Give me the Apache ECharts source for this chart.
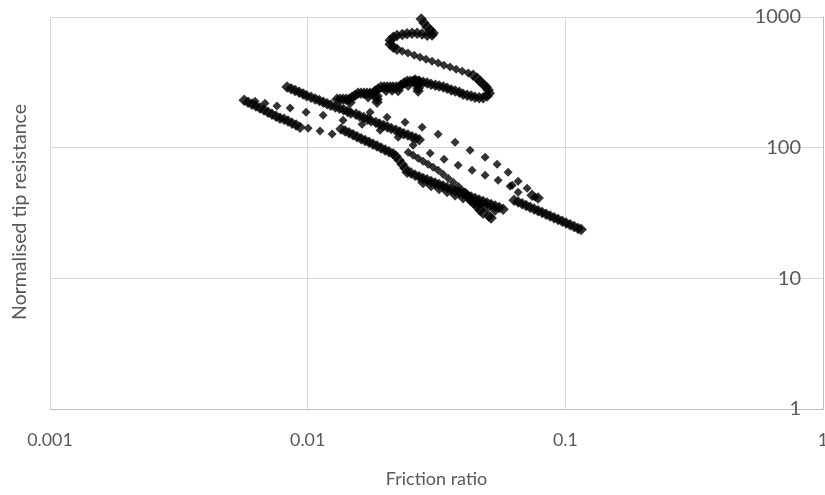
<!DOCTYPE html>
<html>
<head>
<meta charset="utf-8">
<title>Normalised tip resistance vs friction ratio</title>
<script src="https://cdn.jsdelivr.net/npm/echarts@6/dist/echarts.min.js"></script>
<style>
  html, body { margin: 0; padding: 0; background: #ffffff; }
  #chart { width: 825px; height: 495px; }
</style>
</head>
<body>
<div id="chart"></div>
<script>
// Axis tick labels (decades on both log axes)
const xTickLabels = ['0.001', '0.01', '0.1', '1'];
const yTickLabels = ['1', '10', '100', '1000'];

// Measured points: [friction ratio, normalised tip resistance]
const snakeTop = [
  [0.0276, 967], [0.0283, 898], [0.0291, 838], [0.0299, 795], [0.0307, 753],
  [0.0304, 727], [0.0291, 725], [0.0278, 740], [0.0266, 752], [0.0254, 750],
  [0.0243, 745], [0.0233, 735], [0.0222, 722], [0.0215, 700], [0.0209, 665],
  [0.0209, 620], [0.0215, 588], [0.0222, 566]
];
const snakeDotted = [
  [0.0233, 548], [0.0245, 530], [0.0259, 510], [0.0273, 493], [0.0288, 476],
  [0.0304, 459], [0.0321, 444], [0.0338, 428], [0.0357, 414], [0.0377, 399],
  [0.0398, 385], [0.0420, 372]
];
const snakeCurl = [
  [0.0439, 359], [0.0455, 340], [0.0467, 323], [0.0480, 306], [0.0493, 291],
  [0.0502, 276], [0.0507, 261], [0.0497, 248], [0.0480, 241], [0.0463, 241],
  [0.0446, 243], [0.0431, 248], [0.0416, 252], [0.0401, 256], [0.0388, 266],
  [0.0374, 271], [0.0361, 276], [0.0348, 285], [0.0336, 291], [0.0324, 296],
  [0.0313, 301], [0.0301, 306], [0.0291, 312], [0.0281, 317], [0.0270, 323],
  [0.0261, 329]
];
const staircase = [
  [0.02707, 322], [0.02636, 323], [0.02566, 322], [0.02498, 323], [0.02432, 323],
  [0.02684, 301], [0.02684, 285], [0.02684, 271],
  [0.02367, 312], [0.0230, 301],
  [0.02264, 291], [0.02204, 291], [0.02145, 291], [0.02089, 291], [0.02033, 291],
  [0.0198, 291], [0.01927, 291],
  [0.02126, 276],
  [0.01876, 281], [0.01827, 271],
  [0.01794, 261], [0.01747, 261], [0.0170, 261], [0.01655, 261], [0.01612, 261],
  [0.01569, 261],
  [0.01859, 248], [0.01859, 235], [0.01859, 223],
  [0.01527, 252], [0.01487, 243],
  [0.01448, 235], [0.01409, 235], [0.01372, 235], [0.01336, 235], [0.0130, 235],
  [0.02454, 301], [0.02244, 274], [0.02015, 275], [0.01716, 245], [0.01461, 222]
];
const bandUpper = [
  [0.00832, 291], [0.00862, 282], [0.00894, 274], [0.00927, 265], [0.0096, 257],
  [0.0099, 250], [0.0103, 243], [0.0107, 236], [0.0111, 230], [0.0115, 223],
  [0.0119, 217], [0.0123, 211], [0.0128, 205], [0.0133, 200], [0.0138, 195],
  [0.0143, 189], [0.0147, 184], [0.0154, 180], [0.0159, 175], [0.0165, 170],
  [0.0171, 165], [0.0176, 161], [0.0184, 156], [0.0190, 152], [0.0197, 148],
  [0.0204, 144], [0.0211, 140], [0.0220, 136], [0.0228, 132], [0.0236, 128],
  [0.0245, 125], [0.0254, 121], [0.0263, 118], [0.0271, 115]
];
const bandLeft = [
  [0.00567, 231], [0.00587, 223], [0.00608, 215], [0.0063, 208], [0.00653, 201],
  [0.00677, 194], [0.00702, 187], [0.00727, 180], [0.00754, 174], [0.00781, 168],
  [0.0081, 165], [0.00839, 160], [0.0087, 154], [0.00902, 149], [0.00934, 143]
];
const rowLeft = [
  [0.00625, 227], [0.00683, 219], [0.0076, 208], [0.00855, 201], [0.00986, 187],
  [0.01148, 177], [0.01372, 162], [0.01626, 151], [0.0191, 136], [0.02244, 120]
];
const rowShort = [
  [0.01004, 141], [0.01117, 134], [0.01244, 127]
];
const bandMiddle = [
  [0.01348, 139], [0.01397, 134], [0.01448, 130], [0.01501, 125.5], [0.01555, 121],
  [0.01612, 117], [0.01671, 113.5], [0.01731, 110], [0.01794, 106], [0.01859, 103],
  [0.01927, 99.5], [0.01998, 96], [0.0207, 93], [0.02145, 90],
  [0.0220, 86.1], [0.02264, 80.2], [0.02325, 74.8], [0.02388, 69.7]
];
const bandDiagonal = [
  [0.02455, 92.4], [0.02566, 87.6], [0.02684, 83.1], [0.02805, 78.8], [0.02934, 74.8],
  [0.03068, 70.9], [0.03208, 67.3], [0.03354, 62.7], [0.03508, 58.4], [0.03668, 54.4],
  [0.03836, 50.7], [0.03976, 47.3]
];
const bandLower = [
  [0.02432, 64.9], [0.0252, 63.9], [0.02612, 61.5], [0.02707, 59.9], [0.02805, 58.2],
  [0.02907, 56.7], [0.03013, 55.2], [0.03123, 53.7], [0.03237, 52.3], [0.03354, 50.8],
  [0.03477, 49.5], [0.03603, 48.1], [0.03734, 46.9], [0.0387, 45.6], [0.04011, 44.4],
  [0.04157, 43.2], [0.04308, 42.0], [0.04465, 40.9], [0.04628, 39.8], [0.04796, 38.7],
  [0.04971, 37.7], [0.05152, 36.7], [0.0534, 35.7], [0.05534, 34.8], [0.05735, 33.8],
  [0.02805, 54.2], [0.03013, 51.4], [0.03237, 48.7], [0.03477, 46.1], [0.03734, 43.7],
  [0.04011, 41.4], [0.04308, 39.1], [0.04628, 37.1], [0.04971, 35.1], [0.0534, 33.3]
];
const bandFork = [
  [0.04083, 44.8], [0.04195, 42.2], [0.04308, 39.6], [0.04426, 37.6], [0.04546, 35.3],
  [0.0467, 33.2], [0.04796, 31.5], [0.0506, 29.9], [0.05151, 28.9]
];
const bandRight = [
  [0.06326, 39.6], [0.06558, 38.4], [0.06797, 37.3], [0.07044, 36.1], [0.07301, 35.0],
  [0.07567, 33.9], [0.07842, 32.9], [0.08127, 31.9], [0.08424, 30.9], [0.0873, 30.0],
  [0.09047, 29.1], [0.09376, 28.2], [0.09719, 27.3], [0.1007, 26.5], [0.1044, 25.7],
  [0.1082, 24.9], [0.1121, 24.1], [0.1152, 23.6], [0.0743, 43.3], [0.0784, 41.1]
];
const rowUpper = [
  [0.01747, 187], [0.02033, 171], [0.02388, 156.8], [0.02781, 143.5], [0.03208, 126.9],
  [0.03734, 110.2], [0.04269, 95.7], [0.04883, 84.6], [0.05437, 74.8], [0.05998, 64.9],
  [0.06558, 55.4], [0.07108, 49.0], [0.07636, 41.8]
];
const rowLower = [
  [0.02566, 104.5], [0.02987, 90.8], [0.03384, 81.6], [0.03836, 73.4], [0.04346, 67.3],
  [0.04883, 61.6], [0.05486, 56.4], [0.06106, 50.7], [0.0622, 51.6], [0.06558, 45.6]
];

// Tightly packed readings form solid bands; the rest are isolated readings
const packedGroups = [snakeTop, snakeCurl, staircase, bandUpper, bandLeft, bandMiddle, bandLower, bandFork, bandRight];
const looseGroups = [snakeDotted, rowLeft, rowShort, bandDiagonal, rowUpper, rowLower];

const FONT = 'Lato, "Open Sans", sans-serif';
const TEXT = '#595959';

function scatterSeries(points, size) {
  return {
    type: 'scatter',
    data: points,
    symbol: 'diamond',
    symbolSize: size,
    itemStyle: { color: '#000000' },
    silent: true,
    emphasis: { disabled: true }
  };
}

const chart = echarts.init(document.getElementById('chart'), null, { renderer: 'canvas' });

chart.setOption({
  animation: false,
  backgroundColor: '#ffffff',
  grid: { left: 50, right: 2, top: 17, bottom: 86, containLabel: false, outerBoundsMode: 'none' },
  xAxis: {
    type: 'log',
    logBase: 10,
    min: 0.001,
    max: 1,
    name: 'Friction ratio',
    nameLocation: 'middle',
    nameGap: 61,
    nameTextStyle: { color: TEXT, fontFamily: FONT, fontSize: 18 },
    axisLine: { show: true, lineStyle: { color: '#bfbfbf', width: 1 } },
    axisTick: { show: false },
    splitLine: { show: true, lineStyle: { color: '#d9d9d9', width: 1 } },
    axisLabel: {
      color: TEXT, fontFamily: FONT, fontSize: 17.8, margin: 22,
      showMinLabel: true, showMaxLabel: true, hideOverlap: false,
      formatter: v => xTickLabels[Math.round(Math.log10(v)) + 3]
    }
  },
  yAxis: {
    type: 'log',
    logBase: 10,
    min: 1,
    max: 1000,
    position: 'right',
    axisLine: { show: true, lineStyle: { color: '#bfbfbf', width: 1 } },
    axisTick: { show: false },
    splitLine: { show: true, lineStyle: { color: '#d9d9d9', width: 1 } },
    axisLabel: {
      inside: true, margin: 22,
      color: TEXT, fontFamily: FONT, fontSize: 20,
      showMinLabel: true, showMaxLabel: true, hideOverlap: false,
      formatter: v => yTickLabels[Math.round(Math.log10(v))]
    }
  },
  graphic: [{
    type: 'text',
    x: 20,
    y: 212,
    rotation: Math.PI / 2,
    silent: true,
    style: {
      text: 'Normalised tip resistance',
      fill: TEXT,
      fontFamily: FONT,
      fontSize: 19.5,
      align: 'center',
      verticalAlign: 'middle'
    }
  }],
  series: [
    ...packedGroups.map(points => scatterSeries(points, 11.5)),
    ...looseGroups.map(points => scatterSeries(points, 9))
  ]
});
</script>
</body>
</html>
